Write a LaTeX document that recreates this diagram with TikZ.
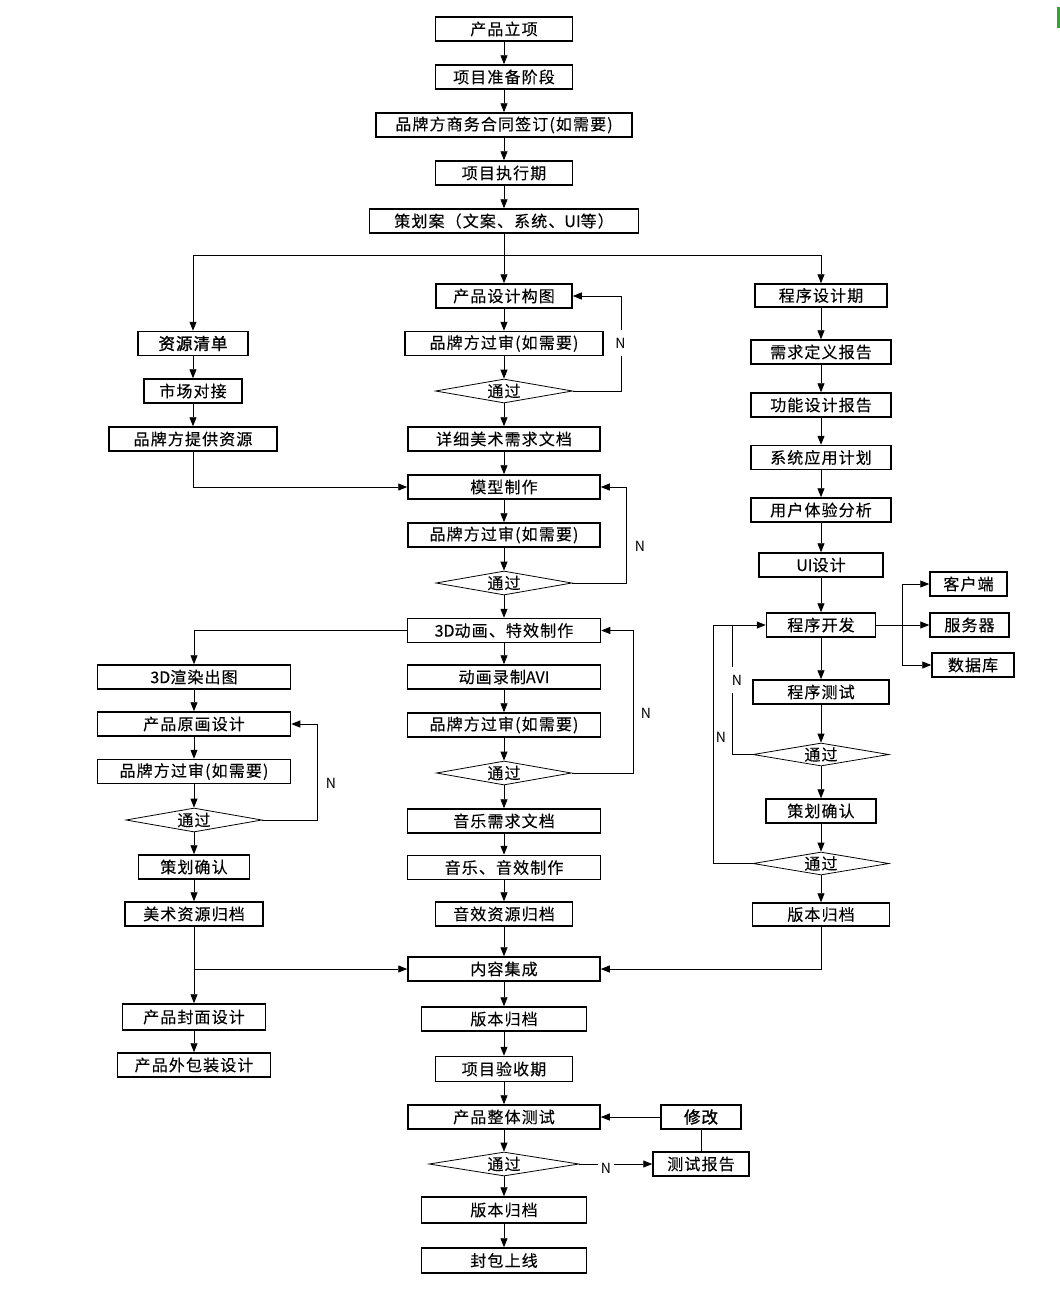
\documentclass[tikz,border=0pt]{standalone}
\usepackage{fontspec}
\usetikzlibrary{arrows.meta,shapes.geometric}
\newfontfamily\cn[LetterSpace=7,FakeBold=0.15]{Noto Sans CJK SC}
\newfontfamily\cnb[LetterSpace=6,FakeBold=1.6]{Noto Sans CJK SC}
\newfontfamily\lat[FakeBold=0.15]{Noto Sans CJK SC}
\newfontfamily\nfont{Noto Sans CJK SC}
\begin{document}
\begin{tikzpicture}[x=1pt,y=-1pt,
  box/.style={draw, line width=1.5pt, minimum height=24pt, inner sep=0pt,
    font=\cn\fontsize{16}{16}\selectfont},
  bbox/.style={box, font=\cnb\fontsize{16.5}{16.5}\selectfont},
  dia/.style={draw, shape=diamond, aspect=5.7, line width=0.8pt, inner sep=0pt,
    minimum height=24pt, font=\cn\fontsize{16}{16}\selectfont},
  conn/.style={line width=0.9pt},
  arr/.style={conn, -{Triangle[length=9pt,width=7pt]}},
  nlab/.style={font=\nfont\fontsize{14}{14}\selectfont, inner sep=1pt},
  nwhite/.style={nlab, fill=white, minimum height=26pt, inner sep=3pt}
]
\fill[white] (0,0) rectangle (1060,1299);
\useasboundingbox (0,0) rectangle (1060,1299);
\fill[green!55!black!80] (1057,7) rectangle (1060,28);

% main column
\node[box, minimum width=137pt] (a1) at (504,29) {产品立项};
\node[box, minimum width=137pt] (a2) at (504,77) {项目准备阶段};
\node[box, minimum width=256pt] (a3) at (504,125) {品牌方商务合同签订(如需要)};
\node[box, minimum width=137pt] (a4) at (504,173) {项目执行期};
\node[box, minimum width=269pt] (a5) at (504,221) {策划案（文案、系统、{\lat UI}等）};
\coordinate (sp) at (504,255);

\node[box, minimum width=136pt] (b1) at (504,296) {产品设计构图};
\node[box, minimum width=198pt] (b2) at (504,343.5) {品牌方过审(如需要)};
\node[dia, minimum width=137pt] (b3) at (504,391) {通过};
\node[box, minimum width=192pt] (b4) at (504,439) {详细美术需求文档};
\node[box, minimum width=192pt] (b5) at (504,487) {模型制作};
\node[box, minimum width=192pt] (b6) at (504,535) {品牌方过审(如需要)};
\node[dia, minimum width=136pt] (b7) at (504,583) {通过};
\node[box, minimum width=193pt] (b8) at (504,630.5) {{\lat 3D}动画、特效制作};
\node[box, minimum width=193pt] (b9) at (504,677) {动画录制{\lat AVI}};
\node[box, minimum width=193pt] (b10) at (504,725) {品牌方过审(如需要)};
\node[dia, minimum width=135pt] (b11) at (504,773) {通过};
\node[box, minimum width=193pt] (b12) at (504,821) {音乐需求文档};
\node[box, minimum width=193pt] (b13) at (504,867.5) {音乐、音效制作};
\node[box, minimum width=137pt] (b14) at (504,914) {音效资源归档};
\node[box, minimum width=192pt] (b15) at (504,969) {内容集成};
\node[box, minimum width=165pt] (b16) at (504,1019) {版本归档};
\node[box, minimum width=137pt, minimum height=25pt] (b17) at (504,1069) {项目验收期};
\node[box, minimum width=192pt] (b18) at (504,1117) {产品整体测试};
\node[dia, minimum width=150pt] (b19) at (504,1164) {通过};
\node[box, minimum width=165pt, minimum height=26pt] (b20) at (504,1210) {版本归档};
\node[box, minimum width=165pt, minimum height=25pt] (b21) at (504,1260.5) {封包上线};

% left column
\node[bbox, minimum width=110pt] (c1) at (193,343.5) {资源清单};
\node[box, minimum width=98pt] (c2) at (193,391) {市场对接};
\node[box, minimum width=168pt] (c3) at (193,439) {品牌方提供资源};
\node[box, minimum width=193pt] (c4) at (194,677) {{\lat 3D}渲染出图};
\node[box, minimum width=193pt] (c5) at (194,724) {产品原画设计};
\node[box, minimum width=193pt] (c6) at (194,771.5) {品牌方过审(如需要)};
\node[dia, minimum width=136pt] (c7) at (194,820) {通过};
\node[box, minimum width=111pt] (c8) at (194,867) {策划确认};
\node[box, minimum width=138pt] (c9) at (194,914) {美术资源归档};
\node[box, minimum width=143pt, minimum height=26pt] (c10) at (194,1017) {产品封面设计};
\node[box, minimum width=153pt] (c11) at (194,1065) {产品外包装设计};

% right column
\node[box, minimum width=132pt, minimum height=23pt] (d1) at (821,295.5) {程序设计期};
\node[box, minimum width=140pt] (d2) at (821,352) {需求定义报告};
\node[box, minimum width=140pt] (d3) at (821,405) {功能设计报告};
\node[box, minimum width=140pt] (d4) at (821,457.5) {系统应用计划};
\node[box, minimum width=140pt] (d5) at (821,510) {用户体验分析};
\node[box, minimum width=124pt] (d6) at (821,565) {{\lat UI}设计};
\node[box, minimum width=109pt] (d7) at (821,625) {程序开发};
\node[box, minimum width=136pt] (d8) at (821,692) {程序测试};
\node[dia, minimum width=136pt, minimum height=23pt] (d9) at (821,754.5) {通过};
\node[box, minimum width=110pt] (d10) at (821,811) {策划确认};
\node[dia, minimum width=136pt, minimum height=23pt] (d11) at (821,863.5) {通过};
\node[box, minimum width=137pt, minimum height=23pt] (d12) at (821,914.5) {版本归档};

\node[box, minimum width=77pt] (e1) at (968.5,584) {客户端};
\node[box, minimum width=79pt] (e2) at (969.5,625) {服务器};
\node[box, minimum width=82pt] (e3) at (973,665) {数据库};
\coordinate (br) at (902,625);

\node[bbox, minimum width=80pt] (f1) at (701,1117) {修改};
\node[box, minimum width=96pt] (f2) at (701,1164) {测试报告};

% connectors: main column
\draw[arr] (a1) -- (a2);
\draw[arr] (a2) -- (a3);
\draw[arr] (a3) -- (a4);
\draw[arr] (a4) -- (a5);
\draw[arr] (a5) -- (b1);
\draw[conn] (c1.north |- sp) -- (d1.north |- sp);
\draw[arr] (c1.north |- sp) -- (c1.north);
\draw[arr] (d1.north |- sp) -- (d1.north);
\foreach \p/\q in {b1/b2,b2/b3,b3/b4,b4/b5,b5/b6,b6/b7,b7/b8,b8/b9,b9/b10,b10/b11,
  b11/b12,b12/b13,b13/b14,b14/b15,b15/b16,b16/b17,b17/b18,b18/b19,b19/b20,b20/b21,
  c1/c2,c2/c3,c4/c5,c5/c6,c6/c7,c7/c8,c8/c9,c9/c10,c10/c11,
  d1/d2,d2/d3,d3/d4,d4/d5,d5/d6,d6/d7,d7/d8,d8/d9,d9/d10,d10/d11,d11/d12}
  {\draw[arr] (\p) -- (\q);}

% loops
\draw[arr] (b3.east) -- ++(48.5,0) |- (b1.east);
\node[nwhite] (n1) at (620.5,343) {N};
\draw[arr] (b7.east) -- ++(54.5,0) |- (b5.east);
\node[nlab] (n2) at (640,546) {N};
\draw[arr] (b11.east) -- ++(61.5,0) |- (b8.east);
\node[nlab] (n3) at (646,713) {N};
\draw[arr] (c7.east) -- ++(55,0) |- (c5.east);
\node[nlab] (n4) at (331,783) {N};

% side joins
\draw[arr] (c3.south) |- (b5.west);
\draw[arr] (b8.west) -| (c4.north);
\draw[arr] (c9.south |- b15.west) -- (b15.west);
\draw[arr] (d12.south) |- (b15.east);

% program branch
\draw[conn] (d7.east) -- (br);
\draw[conn] (br |- e1.west) -- (br |- e3.west);
\draw[arr] (br) -- (e2.west);
\draw[arr] (br |- e1.west) -- (e1.west);
\draw[arr] (br |- e3.west) -- (e3.west);

\draw[conn] (d9.west) -| (732,625);
\node[nwhite] (n5) at (737,680) {N};
\draw[arr] (d11.west) -| (713,625) -- (d7.west);
\node[nlab] (n6) at (721,737) {N};

% final test loop
\draw[arr] (f1.west) -- (b18.east);
\draw[conn] (f1.south) -- (f2.north);
\draw[arr] (b19.east) -- (f2.west);
\node[nwhite, minimum height=18pt] (n7) at (606,1168) {N};
\end{tikzpicture}
\end{document}
